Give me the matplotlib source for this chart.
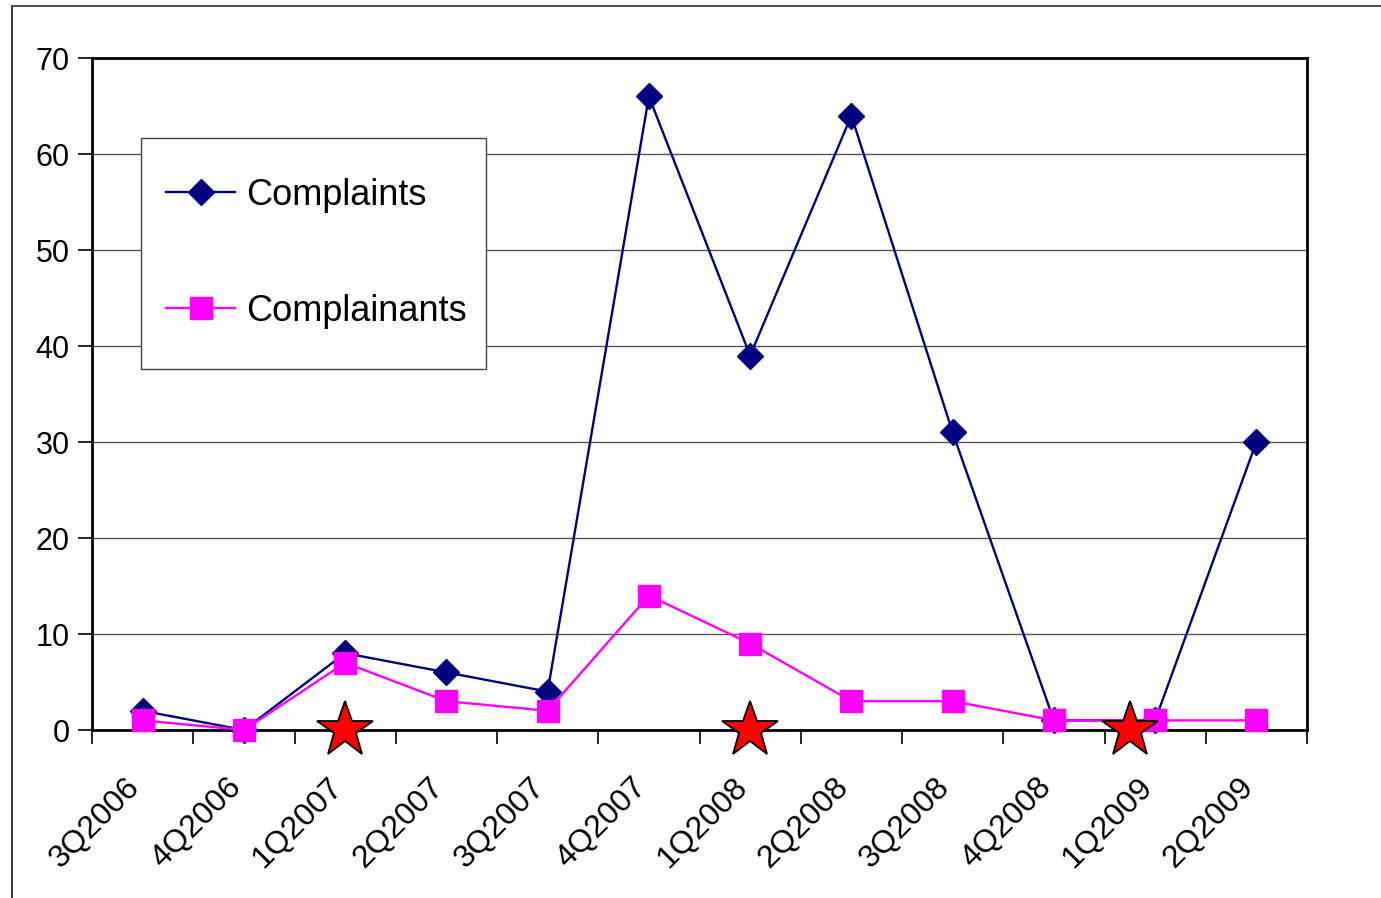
import numpy as np
import matplotlib.pyplot as plt
from matplotlib.lines import Line2D
from matplotlib.patches import Rectangle
from matplotlib.transforms import ScaledTranslation

plt.rcParams['font.family'] = ['Liberation Sans', 'DejaVu Sans']

quarters = ['3Q2006', '4Q2006', '1Q2007', '2Q2007', '3Q2007', '4Q2007',
            '1Q2008', '2Q2008', '3Q2008', '4Q2008', '1Q2009', '2Q2009']
complaints = [2, 0, 8, 6, 4, 66, 39, 64, 31, 1, 1, 30]
complainants = [1, 0, 7, 3, 2, 14, 9, 3, 3, 1, 1, 1]
# red stars sitting on the x axis (category index, value)
star_x = [2, 6, 9.75]
star_y = [0, 0, 0]

W, H = 1381, 898
fig = plt.figure(figsize=(W / 100, H / 100), dpi=100)
ax = fig.add_axes([92 / W, 1 - 730 / H, (1307 - 92) / W, (730 - 58) / H])

x = np.arange(len(quarters))
ax.plot(x, complaints, color='#000080', lw=1.7, marker='D', ms=13,
        label='Complaints', clip_on=False, zorder=3)
ax.plot(x, complainants, color='#FF00FF', lw=1.7, marker='s', ms=16,
        label='Complainants', clip_on=False, zorder=4)
ax.plot(star_x, star_y, ls='none', marker='*', ms=42, mfc='#FF0000',
        mec='black', mew=1.3, clip_on=False, zorder=5)

ax.set_xlim(-0.5, len(quarters) - 0.5)
ax.set_ylim(0, 70)
ax.set_yticks(range(0, 71, 10))
ax.set_xticks(np.arange(-0.5, len(quarters)))
ax.set_xticklabels([])
ax.set_xticks(x, minor=True)
ax.set_xticklabels(quarters, minor=True, rotation=45, ha='right', va='center',
                   rotation_mode='anchor', fontsize=23)
ax.tick_params(axis='x', which='minor', length=0, pad=38)
ax.tick_params(axis='x', which='major', length=10, width=1.2, direction='out')
ax.tick_params(axis='y', length=10, width=1.2, labelsize=22, pad=6)
shift = ScaledTranslation(-7 / 100, 0, fig.dpi_scale_trans)
for lbl in ax.get_xticklabels(minor=True):
    lbl.set_transform(lbl.get_transform() + shift)

ax.grid(axis='y', color='#555555', lw=1.0)
ax.set_axisbelow(True)
for s in ax.spines.values():
    s.set_linewidth(2)

# legend box drawn separately so its padding can match the picture
ax.add_patch(Rectangle((141 / W, 1 - 369 / H), (486 - 141) / W, (369 - 138) / H,
                       transform=fig.transFigure, facecolor='white',
                       edgecolor='#444444', lw=1.0, zorder=6, clip_on=False))
leg = ax.legend(loc='center', bbox_to_anchor=((141 + 486) / 2 / W + 3 / W, 1 - (138 + 369) / 2 / H),
                bbox_transform=fig.transFigure, borderaxespad=0,
                fontsize=26, frameon=False, labelspacing=2.25, handlelength=1.9,
                handletextpad=0.3, borderpad=0)
leg.set_zorder(7)

# outer chart border (left and top edges only are visible)
fig.add_artist(Line2D([12 / W, 12 / W], [0, 1 - 6 / H], transform=fig.transFigure,
                      color='black', lw=1.1))
fig.add_artist(Line2D([12 / W, 1], [1 - 6 / H, 1 - 6 / H], transform=fig.transFigure,
                      color='#404040', lw=1.3))

fig.savefig('out.png', dpi=100)
